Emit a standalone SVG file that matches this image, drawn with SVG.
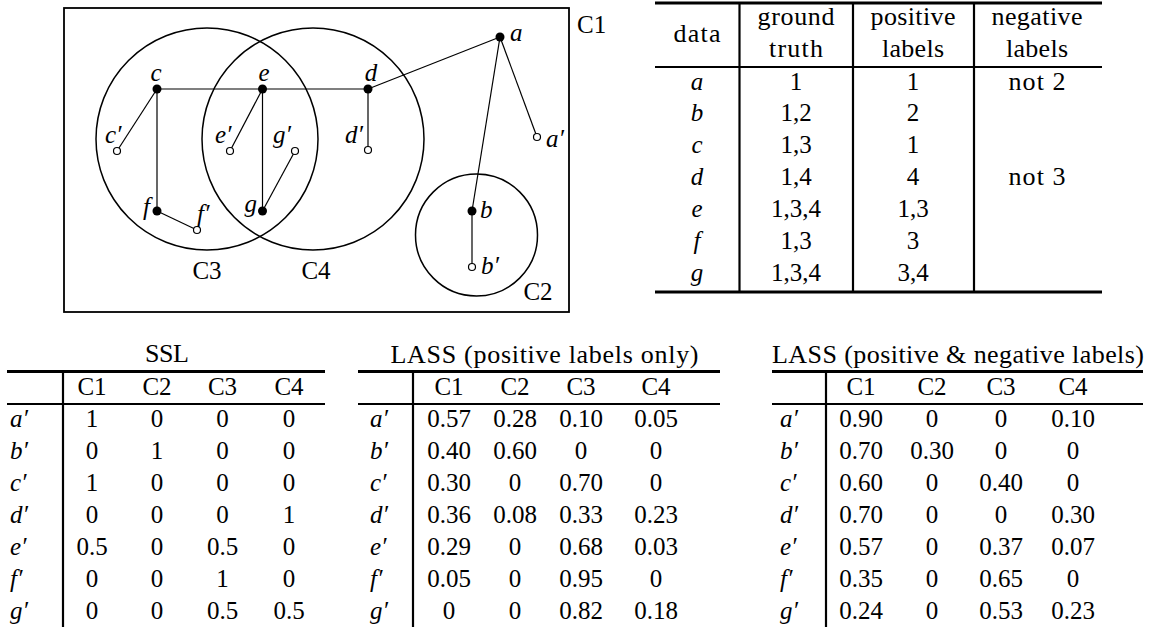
<svg xmlns="http://www.w3.org/2000/svg" width="1158" height="627" viewBox="0 0 1158 627" font-family="'Liberation Serif', 'DejaVu Serif', serif">
<style>
text{font-family:'Liberation Serif','DejaVu Serif',serif;font-size:25px;fill:#000}
.i{font-style:italic}
.m{text-anchor:middle}
.e{text-anchor:end}
.edge{stroke:#000;stroke-width:1.2;fill:none}
.clu{stroke:#000;stroke-width:1.5;fill:none}
.full{fill:#000;stroke:none}
.open{fill:#fff;stroke:#000;stroke-width:1.2}
.heavy{stroke:#000;stroke-width:3}
.mid{stroke:#000;stroke-width:2}
.vr{stroke:#000;stroke-width:2.2}
.w{font-size:26px}
</style>
<rect width="1158" height="627" fill="#fff"/>

<g id="clusters">
<g id="C1"><rect x="64" y="8" width="505" height="304" fill="none" stroke="#000" stroke-width="1.8"/><text x="577" y="33">C1</text></g>
<g id="C3"><circle class="clu" cx="207" cy="139" r="111"/><text class="m" x="207" y="279">C3</text></g>
<g id="C4"><circle class="clu" cx="313" cy="139" r="111"/><text class="m" x="316" y="279">C4</text></g>
<g id="C2"><circle class="clu" cx="476.5" cy="235" r="61"/><text class="m" x="538" y="300">C2</text></g>
</g>

<g id="connectors">
<line class="edge" x1="157" y1="89" x2="368" y2="89"/>
<line class="edge" x1="368" y1="89" x2="500" y2="37"/>
<line class="edge" x1="500" y1="37" x2="537" y2="137"/>
<line class="edge" x1="500" y1="37" x2="472" y2="211"/>
<line class="edge" x1="472" y1="211" x2="472" y2="267"/>
<line class="edge" x1="157" y1="89" x2="117" y2="151"/>
<line class="edge" x1="157" y1="89" x2="157" y2="211"/>
<line class="edge" x1="157" y1="211" x2="197" y2="230"/>
<line class="edge" x1="262.5" y1="89" x2="230" y2="151"/>
<line class="edge" x1="262.5" y1="89" x2="262.5" y2="211"/>
<line class="edge" x1="262.5" y1="211" x2="295" y2="151"/>
<line class="edge" x1="368" y1="89" x2="368" y2="150"/>
</g>

<g id="nodes">
<g id="a"><circle class="full" cx="500" cy="37" r="4.5"/><text class="i" x="510" y="41">a</text></g>
<g id="b"><circle class="full" cx="472" cy="211" r="4.5"/><text class="i" x="480" y="218">b</text></g>
<g id="c"><circle class="full" cx="157" cy="89" r="4.5"/><text class="i m" x="156" y="81">c</text></g>
<g id="d"><circle class="full" cx="368" cy="89" r="4.5"/><text class="i m" x="371" y="81">d</text></g>
<g id="e"><circle class="full" cx="262.5" cy="89" r="4.5"/><text class="i m" x="264" y="81">e</text></g>
<g id="f"><circle class="full" cx="157" cy="211" r="4.5"/><text class="i e" x="150" y="215">f</text></g>
<g id="g"><circle class="full" cx="262.5" cy="211" r="4.5"/><text class="i e" x="257" y="212">g</text></g>
<g id="a2"><circle class="open" cx="537" cy="137" r="3.5"/><text class="i" x="546" y="147">a′</text></g>
<g id="b2"><circle class="open" cx="472" cy="267" r="3.5"/><text class="i" x="481" y="274">b′</text></g>
<g id="c2"><circle class="open" cx="117" cy="151" r="3.5"/><text class="i" x="105" y="143">c′</text></g>
<g id="d2"><circle class="open" cx="368" cy="150" r="3.5"/><text class="i" x="345" y="143">d′</text></g>
<g id="e2"><circle class="open" cx="230" cy="151" r="3.5"/><text class="i" x="215" y="143">e′</text></g>
<g id="f2"><circle class="open" cx="197" cy="230" r="3.5"/><text class="i" x="197" y="222">f′</text></g>
<g id="g2"><circle class="open" cx="295" cy="151" r="3.5"/><text class="i" x="273" y="143">g′</text></g>
</g>

<g id="table-labels">
<line class="heavy" x1="655" y1="3" x2="1102" y2="3"/>
<line class="mid" x1="655" y1="67" x2="1102" y2="67"/>
<line class="heavy" x1="655" y1="292" x2="1102" y2="292"/>
<line class="vr" x1="739.5" y1="3" x2="739.5" y2="292"/>
<line class="vr" x1="853" y1="3" x2="853" y2="292"/>
<line class="vr" x1="974" y1="3" x2="974" y2="292"/>
<text class="m w" x="697" y="42" textLength="47" lengthAdjust="spacing">data</text>
<text class="m w" x="796" y="25" textLength="77" lengthAdjust="spacing">ground</text>
<text class="m w" x="796" y="57" textLength="54" lengthAdjust="spacing">truth</text>
<text class="m w" x="913" y="25" textLength="85" lengthAdjust="spacing">positive</text>
<text class="m w" x="913" y="57" textLength="62" lengthAdjust="spacing">labels</text>
<text class="m w" x="1037" y="25" textLength="91" lengthAdjust="spacing">negative</text>
<text class="m w" x="1037" y="57" textLength="62" lengthAdjust="spacing">labels</text>
<text class="i m" x="697" y="90">a</text><text class="m" x="796" y="90">1</text><text class="m" x="913" y="90">1</text><text class="m w" x="1037" y="90" textLength="57" lengthAdjust="spacing">not 2</text>
<text class="i m" x="697" y="121">b</text><text class="m" x="796" y="121">1,2</text><text class="m" x="913" y="121">2</text>
<text class="i m" x="697" y="153">c</text><text class="m" x="796" y="153">1,3</text><text class="m" x="913" y="153">1</text>
<text class="i m" x="697" y="185">d</text><text class="m" x="796" y="185">1,4</text><text class="m" x="913" y="185">4</text><text class="m w" x="1037" y="185" textLength="57" lengthAdjust="spacing">not 3</text>
<text class="i m" x="697" y="217">e</text><text class="m" x="796" y="217">1,3,4</text><text class="m" x="913" y="217">1,3</text>
<text class="i m" x="697" y="249">f</text><text class="m" x="796" y="249">1,3</text><text class="m" x="913" y="249">3</text>
<text class="i m" x="697" y="281">g</text><text class="m" x="796" y="281">1,3,4</text><text class="m" x="913" y="281">3,4</text>
</g>

<g id="table-ssl">
<text class="m w" x="167" y="362" textLength="44" lengthAdjust="spacing">SSL</text>
<line class="heavy" x1="7" y1="371.5" x2="325" y2="371.5"/>
<line class="mid" x1="7" y1="404" x2="325" y2="404"/>
<line class="vr" x1="63" y1="371.5" x2="63" y2="627"/>
<text class="m" x="92" y="395">C1</text><text class="m" x="157" y="395">C2</text><text class="m" x="222.5" y="395">C3</text><text class="m" x="289" y="395">C4</text>
<text class="i" x="10" y="427">a′</text><text class="m" x="92" y="427">1</text><text class="m" x="157" y="427">0</text><text class="m" x="222.5" y="427">0</text><text class="m" x="289" y="427">0</text>
<text class="i" x="10" y="459">b′</text><text class="m" x="92" y="459">0</text><text class="m" x="157" y="459">1</text><text class="m" x="222.5" y="459">0</text><text class="m" x="289" y="459">0</text>
<text class="i" x="10" y="491">c′</text><text class="m" x="92" y="491">1</text><text class="m" x="157" y="491">0</text><text class="m" x="222.5" y="491">0</text><text class="m" x="289" y="491">0</text>
<text class="i" x="10" y="523">d′</text><text class="m" x="92" y="523">0</text><text class="m" x="157" y="523">0</text><text class="m" x="222.5" y="523">0</text><text class="m" x="289" y="523">1</text>
<text class="i" x="10" y="555">e′</text><text class="m" x="92" y="555">0.5</text><text class="m" x="157" y="555">0</text><text class="m" x="222.5" y="555">0.5</text><text class="m" x="289" y="555">0</text>
<text class="i" x="10" y="587">f′</text><text class="m" x="92" y="587">0</text><text class="m" x="157" y="587">0</text><text class="m" x="222.5" y="587">1</text><text class="m" x="289" y="587">0</text>
<text class="i" x="10" y="619">g′</text><text class="m" x="92" y="619">0</text><text class="m" x="157" y="619">0</text><text class="m" x="222.5" y="619">0.5</text><text class="m" x="289" y="619">0.5</text>
</g>

<g id="table-lass-pos">
<text class="m w" x="544.5" y="363" textLength="308" lengthAdjust="spacing">LASS (positive labels only)</text>
<line class="heavy" x1="358" y1="371.5" x2="720" y2="371.5"/>
<line class="mid" x1="358" y1="404" x2="720" y2="404"/>
<line class="vr" x1="413" y1="371.5" x2="413" y2="627"/>
<text class="m" x="449" y="395">C1</text><text class="m" x="515" y="395">C2</text><text class="m" x="581" y="395">C3</text><text class="m" x="656" y="395">C4</text>
<text class="i" x="370" y="427">a′</text><text class="m" x="449" y="427">0.57</text><text class="m" x="515" y="427">0.28</text><text class="m" x="581" y="427">0.10</text><text class="m" x="656" y="427">0.05</text>
<text class="i" x="370" y="459">b′</text><text class="m" x="449" y="459">0.40</text><text class="m" x="515" y="459">0.60</text><text class="m" x="581" y="459">0</text><text class="m" x="656" y="459">0</text>
<text class="i" x="370" y="491">c′</text><text class="m" x="449" y="491">0.30</text><text class="m" x="515" y="491">0</text><text class="m" x="581" y="491">0.70</text><text class="m" x="656" y="491">0</text>
<text class="i" x="370" y="523">d′</text><text class="m" x="449" y="523">0.36</text><text class="m" x="515" y="523">0.08</text><text class="m" x="581" y="523">0.33</text><text class="m" x="656" y="523">0.23</text>
<text class="i" x="370" y="555">e′</text><text class="m" x="449" y="555">0.29</text><text class="m" x="515" y="555">0</text><text class="m" x="581" y="555">0.68</text><text class="m" x="656" y="555">0.03</text>
<text class="i" x="370" y="587">f′</text><text class="m" x="449" y="587">0.05</text><text class="m" x="515" y="587">0</text><text class="m" x="581" y="587">0.95</text><text class="m" x="656" y="587">0</text>
<text class="i" x="370" y="619">g′</text><text class="m" x="449" y="619">0</text><text class="m" x="515" y="619">0</text><text class="m" x="581" y="619">0.82</text><text class="m" x="656" y="619">0.18</text>
</g>

<g id="table-lass-posneg">
<text class="m w" x="958" y="363" textLength="372" lengthAdjust="spacing">LASS (positive &amp; negative labels)</text>
<line class="heavy" x1="772" y1="371.5" x2="1143" y2="371.5"/>
<line class="mid" x1="772" y1="404" x2="1143" y2="404"/>
<line class="vr" x1="826" y1="371.5" x2="826" y2="627"/>
<text class="m" x="861" y="395">C1</text><text class="m" x="932" y="395">C2</text><text class="m" x="1001" y="395">C3</text><text class="m" x="1073" y="395">C4</text>
<text class="i" x="780" y="427">a′</text><text class="m" x="861" y="427">0.90</text><text class="m" x="932" y="427">0</text><text class="m" x="1001" y="427">0</text><text class="m" x="1073" y="427">0.10</text>
<text class="i" x="780" y="459">b′</text><text class="m" x="861" y="459">0.70</text><text class="m" x="932" y="459">0.30</text><text class="m" x="1001" y="459">0</text><text class="m" x="1073" y="459">0</text>
<text class="i" x="780" y="491">c′</text><text class="m" x="861" y="491">0.60</text><text class="m" x="932" y="491">0</text><text class="m" x="1001" y="491">0.40</text><text class="m" x="1073" y="491">0</text>
<text class="i" x="780" y="523">d′</text><text class="m" x="861" y="523">0.70</text><text class="m" x="932" y="523">0</text><text class="m" x="1001" y="523">0</text><text class="m" x="1073" y="523">0.30</text>
<text class="i" x="780" y="555">e′</text><text class="m" x="861" y="555">0.57</text><text class="m" x="932" y="555">0</text><text class="m" x="1001" y="555">0.37</text><text class="m" x="1073" y="555">0.07</text>
<text class="i" x="780" y="587">f′</text><text class="m" x="861" y="587">0.35</text><text class="m" x="932" y="587">0</text><text class="m" x="1001" y="587">0.65</text><text class="m" x="1073" y="587">0</text>
<text class="i" x="780" y="619">g′</text><text class="m" x="861" y="619">0.24</text><text class="m" x="932" y="619">0</text><text class="m" x="1001" y="619">0.53</text><text class="m" x="1073" y="619">0.23</text>
</g>
</svg>
